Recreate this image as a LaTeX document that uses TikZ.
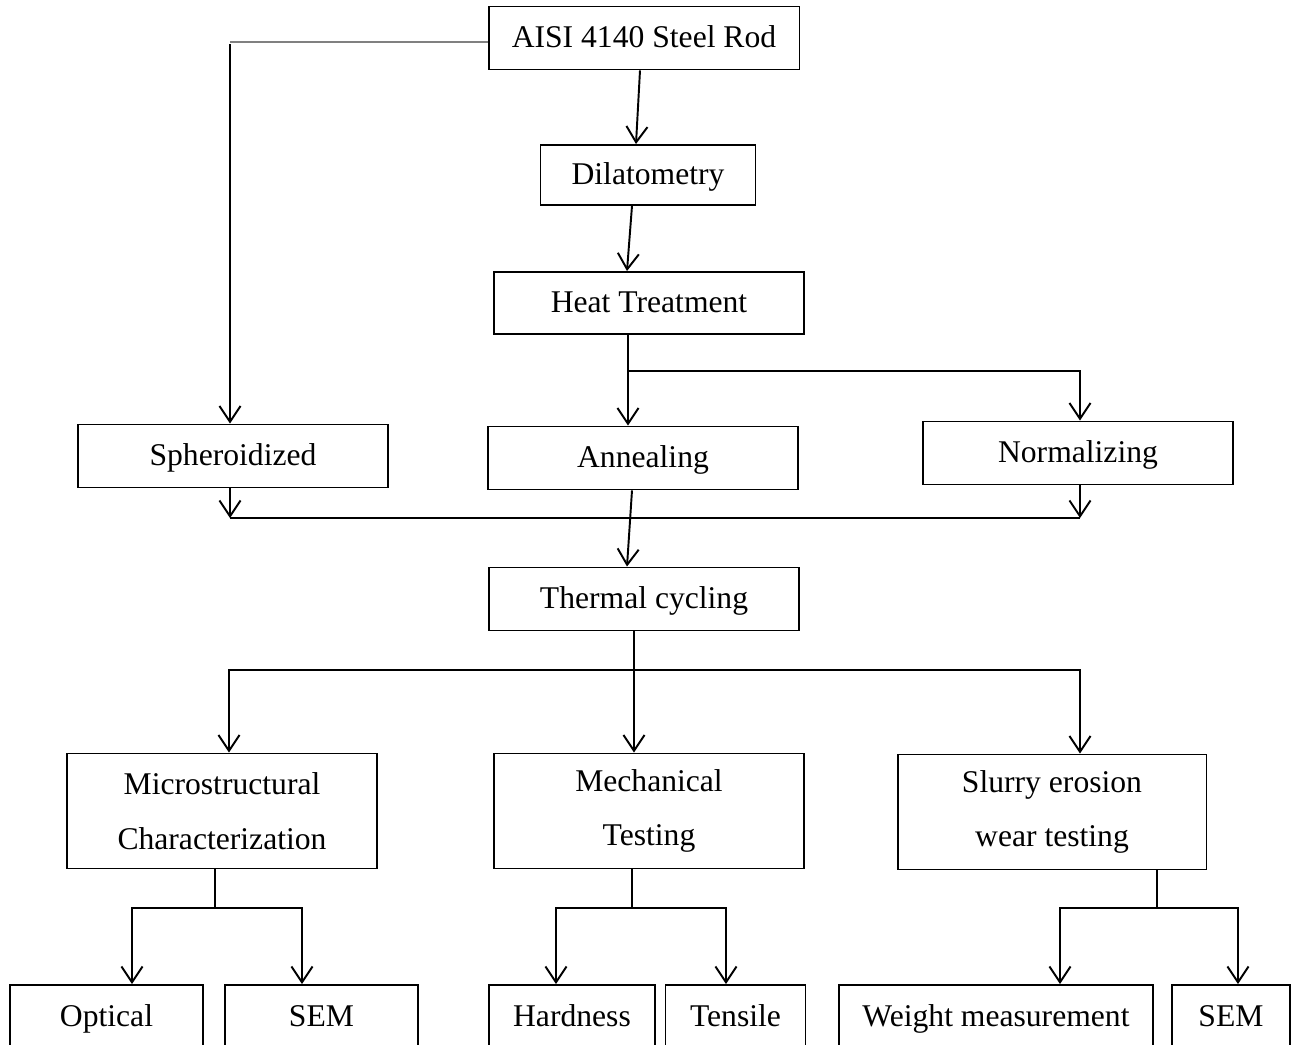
\documentclass[tikz,border=0pt]{standalone}
\usepackage{fontspec}
\setmainfont{Liberation Serif}
\usetikzlibrary{calc,arrows.meta}

\tikzset{
  box/.style={draw,rectangle,line width=1.1pt,inner sep=0pt,minimum height=1.26cm,minimum width=6.2cm,
    font=\fontsize{18}{31}\selectfont,align=center},
  onerow/.style={box,text height=12pt,text depth=1pt},
  wire/.style={line width=1.1pt},
  link/.style={line width=1.1pt,-{Straight Barb[length=9pt,width=12pt,line width=1.1pt]}}
}

\begin{document}
\begin{tikzpicture}[x=0.02cm,y=-0.02cm]
\useasboundingbox (0,0) rectangle (1306,1045);
\clip (0,0) rectangle (1306,1045);

\node [onerow,minimum width=6.22cm] (aisi) at (644,38) {AISI 4140 Steel Rod};
\node [onerow,minimum width=4.3cm,minimum height=1.2cm] (dilato) at (648,175) {Dilatometry};
\node [onerow,minimum height=1.24cm] (heat) at (649,303) {Heat Treatment};
\node [onerow] (spher) at (233,456) {Spheroidized};
\node [onerow] (anneal) at (643,458) {Annealing};
\node [onerow] (normal) at (1078,453) {Normalizing};
\node [onerow] (thermal) at (644,599) {Thermal cycling};
\node [box,minimum height=2.3cm] (micro) at (222,811) {Microstructural\\Characterization};
\node [box,minimum height=2.3cm] (mech) at (649,811) {Mechanical\\Testing};
\node [box,minimum height=2.3cm,minimum width=6.18cm] (slurry) at (1052,812) {Slurry erosion\\wear testing};

\node [onerow,minimum width=3.86cm,minimum height=1.28cm] (optical) at (106.5,1017) {Optical};
\node [onerow,minimum width=3.86cm,minimum height=1.28cm] (semA) at (321.5,1017) {SEM};
\node [onerow,minimum width=3.32cm,minimum height=1.28cm] (hard) at (572,1017) {Hardness};
\node [onerow,minimum width=2.8cm,minimum height=1.28cm] (tensile) at (735.5,1017) {Tensile};
\node [onerow,minimum width=6.28cm,minimum height=1.28cm] (weight) at (996,1017) {Weight measurement};
\node [onerow,minimum width=2.36cm,minimum height=1.28cm] (semB) at (1231,1017) {SEM};

% rod to spheroidized
\coordinate (rodcorner) at ($ (spher.north |- aisi.west)+(-3,0) $);
\draw[gray,line width=0.8pt] ($ (aisi.west)+(0,4) $) -- ($ (rodcorner)+(0,4) $);
\draw[link] ($ (rodcorner)+(0,6) $) -- ($ (spher.north)+(-3,0) $);

% main line
\draw[link] ($ (aisi.south)+(-4,0) $) -- ($ (dilato.north)+(-12,0) $);
\draw[link] ($ (dilato.south)+(-16,0) $) -- ($ (heat.north)+(-22,0) $);
\draw[link] ($ (heat.south)+(-21,0) $) -- ($ (anneal.north)+(-15,0) $);
\coordinate (heatfork) at (628,371);
\draw[link] (heatfork) -| ($ (normal.north)+(2,0) $);

% join to thermal cycling
\coordinate (joinL) at (230,518);
\coordinate (joinR) at (1080,518);
\draw[link] ($ (spher.south)+(-3,0) $) -- (joinL);
\draw[link] ($ (normal.south)+(2,0) $) -- (joinR);
\draw[wire] (joinL) -- (joinR);
\draw[link] ($ (anneal.south)+(-11,0) $) -- ($ (thermal.north)+(-17,0) $);

% thermal cycling to tests
\coordinate (testfork) at (634,670);
\draw[link] ($ (thermal.south)+(-10,0) $) -- ($ (mech.north)+(-15,0) $);
\draw[link] (testfork) -| ($ (micro.north)+(7,0) $);
\draw[link] (testfork) -| ($ (slurry.north)+(28,0) $);

% tests to methods
\coordinate (microfork) at (215,908);
\draw[wire] ($ (micro.south)+(-7,0) $) -- (microfork);
\draw[link] (microfork) -| ($ (optical.north)+(25.5,0) $);
\draw[link] (microfork) -| ($ (semA.north)+(-19.5,0) $);

\coordinate (mechfork) at (632,908);
\draw[wire] ($ (mech.south)+(-17,0) $) -- (mechfork);
\draw[link] (mechfork) -| ($ (hard.north)+(-16,0) $);
\draw[link] (mechfork) -| ($ (tensile.north)+(-9.5,0) $);

\coordinate (slurryfork) at (1157,908);
\draw[wire] ($ (slurry.south)+(105,0) $) -- (slurryfork);
\draw[link] (slurryfork) -| ($ (weight.north)+(64,0) $);
\draw[link] (slurryfork) -| ($ (semB.north)+(7,0) $);

\end{tikzpicture}
\end{document}
